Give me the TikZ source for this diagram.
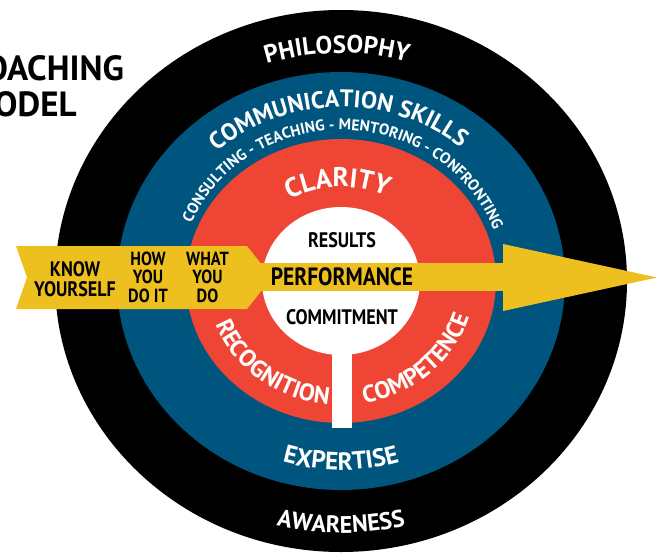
\documentclass[tikz,border=0pt]{standalone}
\usepackage{fontspec}
\setmainfont{PT Sans}[FakeStretch=0.86]
\newfontfamily\ringfont{PT Sans}
\usetikzlibrary{decorations.text}

\definecolor{coachblue}{HTML}{00557F}
\definecolor{coachred}{HTML}{EF4535}
\definecolor{coachyellow}{HTML}{EEC01F}

\begin{document}
\begin{tikzpicture}[x=1pt, y=1pt, every node/.style={align=center, inner sep=0pt, font=\bfseries},
  ringlabel/.style={decorate, decoration={text along path, text align=center, text color=white, text={#1}}}]
  \useasboundingbox (-341,-271) rectangle (319,281);
  \clip (-341,-271) rectangle (319,281);

  % Rings, outside in
  \fill[black] (0,0) ellipse [x radius=286, y radius=271];
  \fill[coachblue] (0,0) ellipse [x radius=224, y radius=209];
  \fill[coachred] (0,0) ellipse [x radius=155, y radius=142];
  \fill[white] (0,0) ellipse [x radius=79, y radius=74];
  \fill[white] (-9,0) rectangle (11,-147);

  % Ring labels along the arcs
  \path[ringlabel={|\ringfont\bfseries\fontsize{25}{25}\selectfont|PHILOSOPHY}]
    (151:242 and 228) arc[start angle=151, end angle=31, x radius=242, y radius=228];
  \path[ringlabel={|\ringfont\bfseries\fontsize{24}{24}\selectfont|COMMUNICATION SKILLS}]
    (176:186 and 174) arc[start angle=176, end angle=6, x radius=186, y radius=174];
  \path[ringlabel={|\ringfont\bfseries\fontsize{15.5}{15.5}\selectfont|CONSULTING - TEACHING - MENTORING - CONFRONTING}]
    (178:162 and 151) arc[start angle=178, end angle=-1, x radius=162, y radius=151];
  \path[ringlabel={|\ringfont\bfseries\fontsize{27}{27}\selectfont|CLARITY}]
    (172:103 and 94) arc[start angle=172, end angle=12, x radius=103, y radius=94];
  \path[ringlabel={|\ringfont\bfseries\fontsize{24}{24}\selectfont|RECOGNITION}]
    (187:134 and 124) arc[start angle=187, end angle=277, x radius=134, y radius=124];
  \path[ringlabel={|\ringfont\bfseries\fontsize{24}{24}\selectfont|COMPETENCE}]
    (267:134 and 124) arc[start angle=267, end angle=357, x radius=134, y radius=124];
  \path[ringlabel={|\ringfont\bfseries\fontsize{25}{25}\selectfont|EXPERTISE}]
    (220:202 and 189) arc[start angle=220, end angle=320, x radius=202, y radius=189];
  \path[ringlabel={|\ringfont\bfseries\fontsize{24}{24}\selectfont|AWARENESS}]
    (230:266 and 252) arc[start angle=230, end angle=310, x radius=266, y radius=252];

  % Arrow through the middle
  \fill[coachyellow] (-325,35) -- (-94,35) -- (-69,3.5) -- (-94,-28) -- (-325,-28) -- (-314,3.5) -- cycle;
  \fill[coachyellow] (-100,18) rectangle (162,-10);
  \fill[coachyellow] (162,37) -- (316,3.5) -- (162,-30) -- cycle;

  % Steps on the arrow
  \node[font=\bfseries\fontsize{21}{20}\selectfont] (know) at (-266,1.5) {KNOW\\YOURSELF};
  \node[font=\bfseries\fontsize{19}{18.5}\selectfont] (how) at (-193,4) {HOW\\YOU\\DO IT};
  \node[font=\bfseries\fontsize{19}{18.5}\selectfont] (what) at (-133.5,4) {WHAT\\YOU\\DO};

  % Centre
  \node[font=\bfseries\fontsize{21}{21}\selectfont] (results) at (1,40.5) {RESULTS};
  \node[font=\bfseries\fontsize{25}{25}\selectfont] (perf) at (1,4) {PERFORMANCE};
  \node[font=\bfseries\fontsize{21}{21}\selectfont] (commit) at (1,-36.5) {COMMITMENT};

  % Title, running off the left edge
  \node[font=\ringfont\bfseries\fontsize{35}{36}\selectfont, align=left, anchor=north east] (title) at (-217,226) {COACHING\\MODEL};
\end{tikzpicture}
\end{document}
